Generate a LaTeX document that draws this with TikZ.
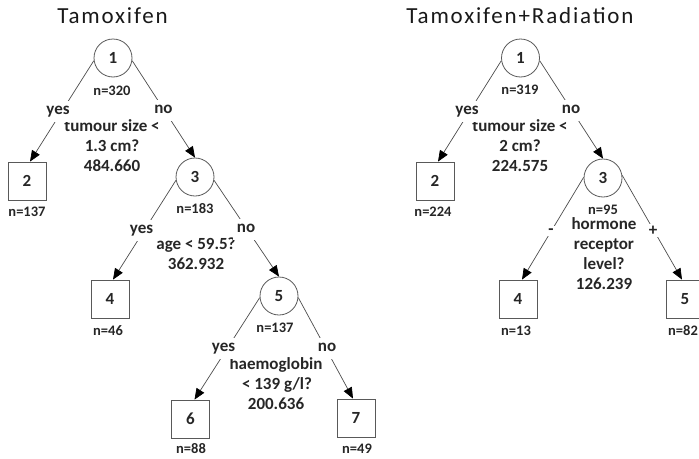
\documentclass[tikz,border=0pt]{standalone}
\usepackage{fontspec}
\setmainfont{Carlito}
\newfontfamily\titlefont[LetterSpace=8]{Carlito}
\usetikzlibrary{arrows.meta}
\begin{document}
\begin{tikzpicture}[x=1pt,y=-1pt,
  circ/.style={circle, draw=black!65, line width=0.8pt, minimum size=38pt, inner sep=0pt, font=\fontsize{17}{20}\selectfont\bfseries, text=black!85},
  leaf/.style={rectangle, draw=black!65, line width=0.8pt, minimum size=38pt, inner sep=0pt, font=\fontsize{17}{20}\selectfont\bfseries, text=black!85},
  lab/.style={anchor=base, inner sep=0pt, font=\fontsize{17}{20}\selectfont\bfseries, text=black!85},
  nlab/.style={anchor=base, inner sep=0pt, font=\fontsize{14.5}{17}\selectfont\bfseries, text=black!85},
  yn/.style={lab, fill=white, text height=9pt, text depth=4pt, inner sep=4pt},
  sgn/.style={lab, fill=white, inner sep=2pt},
  arr/.style={draw=black!70, line width=0.7pt, -{Triangle[length=11pt,width=9pt,color=black]}},
  ttl/.style={anchor=base, inner sep=0pt, font=\titlefont\fontsize{23}{27}\selectfont, text=black!90}]
\useasboundingbox (0,0) rectangle (699,458);
% ---------- left tree ----------
\node[ttl] (t1) at (112.5,23) {Tamoxifen};
\node[circ] (L1) at (113,58) {1};
\node[nlab] (L1n) at (112,95) {n=320};
\node[leaf] (L2) at (27,181) {2};
\node[nlab] (L2n) at (27,216) {n=137};
\node[circ] (L3) at (195,177) {3};
\node[nlab] (L3n) at (195,213) {n=183};
\node[leaf] (L4) at (110,299) {4};
\node[nlab] (L4n) at (108,335) {n=46};
\node[circ] (L5) at (279,296) {5};
\node[nlab] (L5n) at (275,332) {n=137};
\node[leaf] (L6) at (190.5,419) {6};
\node[nlab] (L6n) at (191,453) {n=88};
\node[leaf] (L7) at (356,418) {7};
\node[nlab] (L7n) at (357,453) {n=49};
\node[lab] (L1a) at (112,131) {tumour size <};
\node[lab] (L1b) at (112,151) {1.3 cm?};
\node[lab] (L1c) at (112,171) {484.660};
\node[lab] (L3a) at (196,249) {age < 59.5?};
\node[lab] (L3b) at (196,269) {362.932};
\node[lab] (L5a) at (276,369) {haemoglobin};
\node[lab] (L5b) at (277,389) {< 139 g/l?};
\node[lab] (L5c) at (276,409) {200.636};
\draw[arr] (L1.188) -- ([xshift=3pt]L2.north);
\draw[arr] (L1.352) -- (L3.north);
\draw[arr] (L3.190) -- ([xshift=3pt]L4.north);
\draw[arr] (L3.350) -- (L5.north);
\draw[arr] (L5.185) -- ([xshift=4pt]L6.north);
\draw[arr] (L5.355) -- ([xshift=-3pt]L7.north);
\node[yn] (L1y) at (58,114) {yes};
\node[yn] (L1no) at (163.5,113) {no};
\node[yn] (L3y) at (141.5,233) {yes};
\node[yn] (L3no) at (246,232) {no};
\node[yn] (L5y) at (223.5,351) {yes};
\node[yn] (L5no) at (327,351) {no};
% ---------- right tree ----------
\node[ttl] (t2) at (520,23) {Tamoxifen+Radiation};
\node[circ] (R1) at (520.5,58) {1};
\node[nlab] (R1n) at (520,94) {n=319};
\node[leaf] (R2) at (435,181) {2};
\node[nlab] (R2n) at (433,216) {n=224};
\node[circ] (R3) at (603,178) {3};
\node[nlab] (R3n) at (603,214) {n=95};
\node[leaf] (R4) at (518,299) {4};
\node[nlab] (R4n) at (516,335) {n=13};
\node[leaf] (R5) at (685,299) {5};
\node[nlab] (R5n) at (683,335) {n=82};
\node[lab] (R1a) at (520,131) {tumour size <};
\node[lab] (R1b) at (520,151) {2 cm?};
\node[lab] (R1c) at (520,171) {224.575};
\node[lab] (R3a) at (604,229) {hormone};
\node[lab] (R3b) at (604,249) {receptor};
\node[lab] (R3c) at (604,269) {level?};
\node[lab] (R3d) at (604,289) {126.239};
\draw[arr] (R1.188) -- ([xshift=3pt]R2.north);
\draw[arr] (R1.352) -- (R3.north);
\draw[arr] (R3.178) -- ([xshift=4pt]R4.north);
\draw[arr] (R3.8) -- ([xshift=-3pt]R5.north);
\node[yn] (R1y) at (467,114) {yes};
\node[yn] (R1no) at (571,113) {no};
\node[sgn] (R3m) at (551,234) {-};
\node[sgn] (R3p) at (653,235) {+};
\end{tikzpicture}
\end{document}
